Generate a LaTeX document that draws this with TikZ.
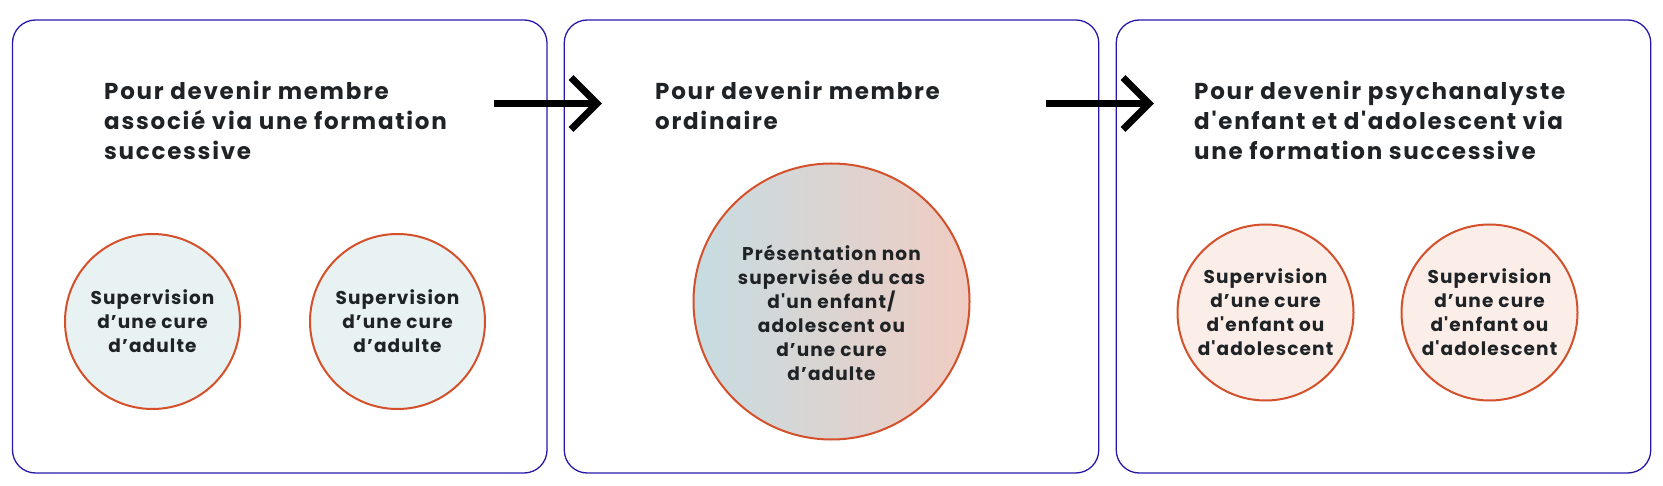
\documentclass[tikz,border=0pt]{standalone}
\usepackage{fontspec}
\newfontfamily\pfont{Poppins}[UprightFont=* Bold, LetterSpace=6, Ligatures=TeXOff]
\newfontfamily\ptfont{Poppins}[UprightFont=* Bold, LetterSpace=7.5, Ligatures=TeXOff]
\usetikzlibrary{calc}
\definecolor{panelc}{HTML}{2818A8}
\definecolor{circc}{HTML}{D4502A}
\definecolor{fillA}{HTML}{E9F2F3}
\definecolor{fillB}{HTML}{FBEDE8}
\definecolor{gradL}{HTML}{C6DCE1}
\definecolor{gradR}{HTML}{F0CCC2}
\definecolor{textc}{HTML}{1F2326}
\tikzset{
  panel/.style={draw=panelc, line width=1.3pt, rounded corners=23pt, minimum width=534.5pt, minimum height=453pt, inner sep=0pt},
  circ/.style={circle, draw=circc, line width=2pt, inner sep=0pt},
  title/.style={anchor=north west, inner sep=0pt, align=left, text=textc, font=\ptfont\fontsize{23}{30}\selectfont},
  ctext/.style={inner sep=0pt, align=center, text=textc, font=\pfont\fontsize{18.5}{24}\selectfont},
  arrowline/.style={line width=7pt, black, miter limit=10}
}
\begin{document}
\begin{tikzpicture}[x=1pt,y=-1pt]
\useasboundingbox (0,0) rectangle (1663,486);
% panels
\node[panel] (p1) at (279.75,246.5) {};
\node[panel] (p2) at (831.5,246.5) {};
\node[panel] (p3) at (1383.5,246.5) {};
% titles
\node[title] (t1) at (104,81) {Pour devenir membre\\associé via une formation\\successive};
\node[title] (t2) at (655,81) {Pour devenir membre\\ordinaire};
\node[title] (t3) at (1194,81) {Pour devenir psychanalyste\\d'enfant et d'adolescent via\\une formation successive};
% circles
\node[circ, fill=fillA, minimum size=175pt] (c11) at (152.5,321.5) {};
\node[circ, fill=fillA, minimum size=175pt] (c12) at (397.5,321.5) {};
\node[circ, left color=gradL, right color=gradR, minimum size=276pt] (c2) at (831.5,301.5) {};
\node[circ, fill=fillB, minimum size=176pt] (c31) at (1265.5,312.5) {};
\node[circ, fill=fillB, minimum size=176pt] (c32) at (1489.5,312.5) {};
% circle texts
\node[ctext] (l11) at (c11) {Supervision\\d’une cure\\d’adulte};
\node[ctext] (l12) at (c12) {Supervision\\d’une cure\\d’adulte};
\node[ctext, yshift=-11pt] (l2) at (c2) {Présentation non\\supervisée du cas\\d'un enfant/\\adolescent ou\\d’une cure\\d’adulte};
\node[ctext] (l31) at (c31) {Supervision\\d’une cure\\d'enfant ou\\d'adolescent};
\node[ctext] (l32) at (c32) {Supervision\\d’une cure\\d'enfant ou\\d'adolescent};
% arrows
\coordinate (a1s) at (494,103.5);
\coordinate (a1t) at (597,103.5);
\coordinate (a2s) at (1046,103.5);
\coordinate (a2t) at (1149,103.5);
\draw[arrowline] (a1s) -- (a1t);
\draw[arrowline] ($(a1t)+(-26,-26)$) -- (a1t) -- ($(a1t)+(-26,26)$);
\draw[arrowline] (a2s) -- (a2t);
\draw[arrowline] ($(a2t)+(-26,-26)$) -- (a2t) -- ($(a2t)+(-26,26)$);
\end{tikzpicture}
\end{document}
